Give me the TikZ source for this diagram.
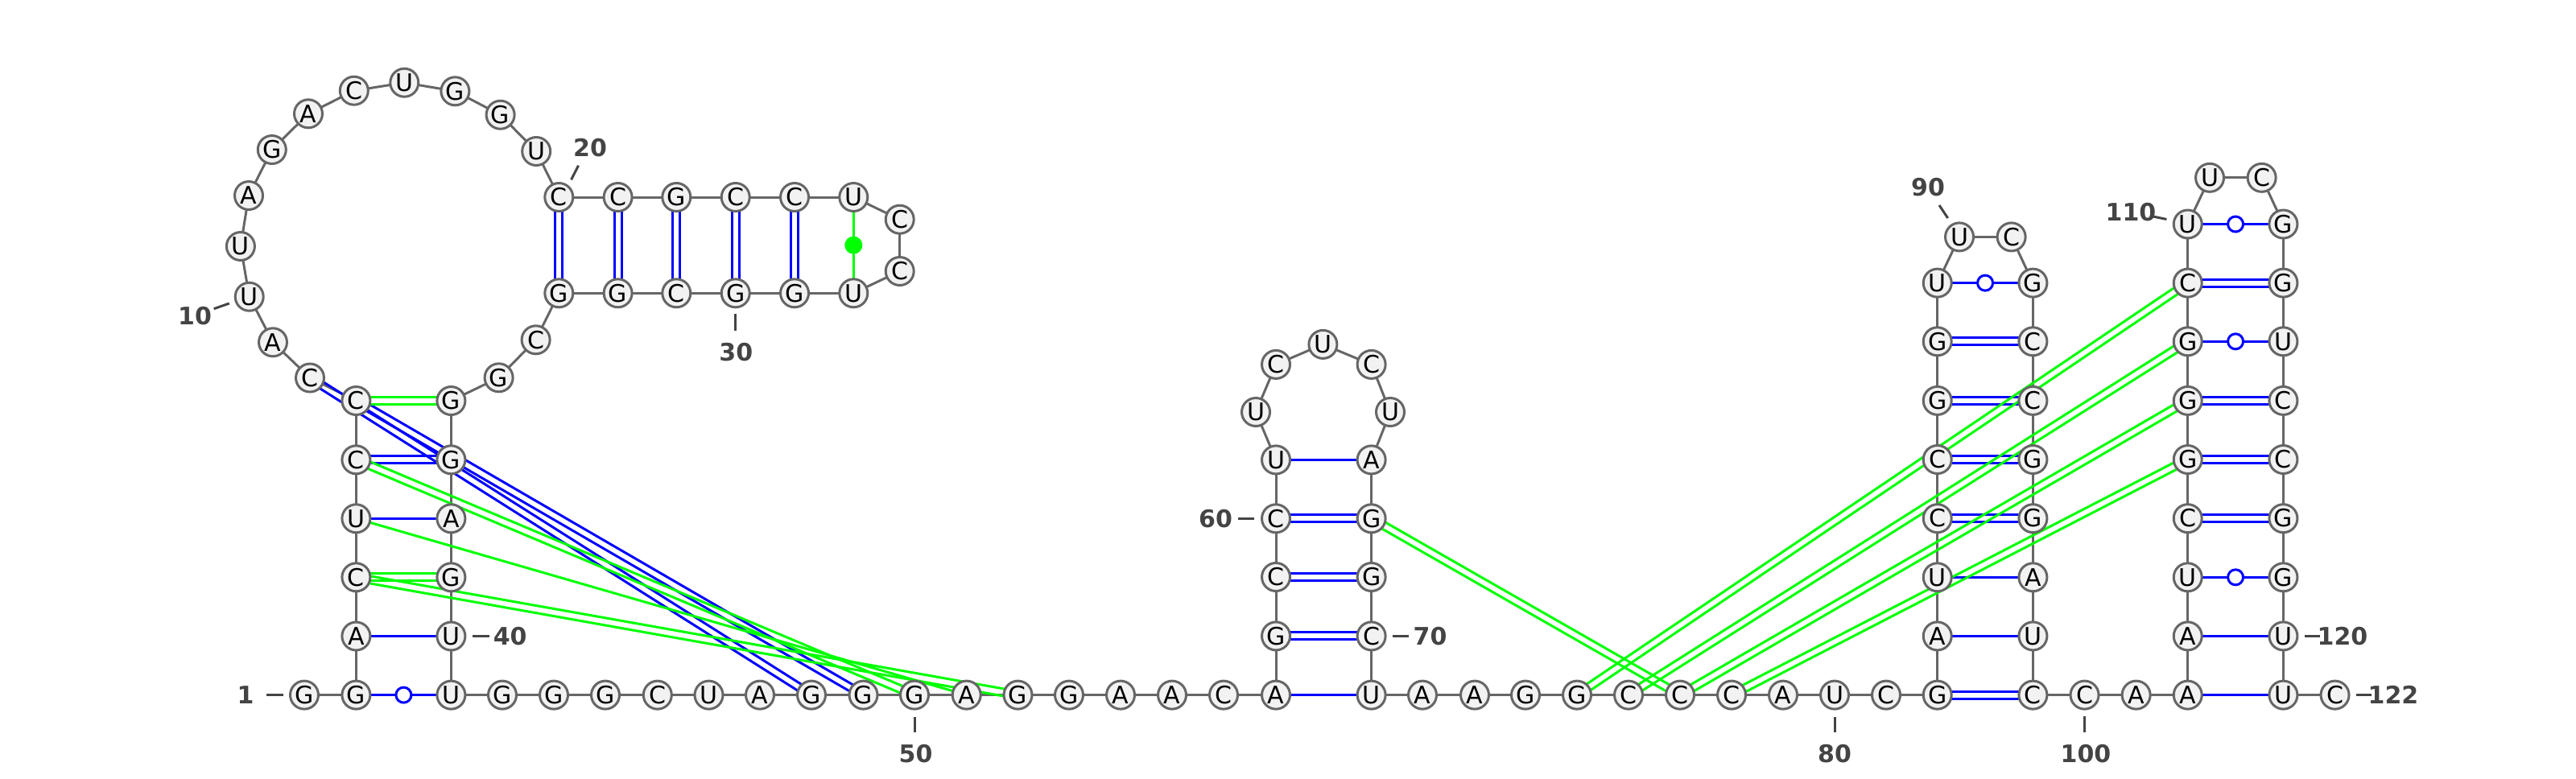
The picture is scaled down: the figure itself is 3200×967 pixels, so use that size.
\documentclass[tikz,border=0pt]{standalone}
\usepackage{fontspec}
\setmainfont{DejaVu Sans}
\usetikzlibrary{calc}
\pgfdeclarelayer{background}
\pgfsetlayers{background,main}
\definecolor{bb}{HTML}{666666}
\definecolor{lab}{HTML}{444444}
\definecolor{nt}{HTML}{F2F2F2}
\tikzset{
  base/.style={circle,draw=bb,fill=nt,line width=3pt,minimum size=35pt,inner sep=0pt,outer sep=0pt,text=black,font=\fontsize{30}{30}\selectfont,text height=21.5pt,text depth=0pt},
  backbone/.style={draw=bb,line width=3pt},
  bluepair/.style={draw=blue,line width=3pt},
  greenpair/.style={draw=green,line width=3pt},
  openmark/.style={circle,draw=blue,fill=white,line width=3pt,minimum size=19pt,inner sep=0pt},
  dotmark/.style={circle,draw=green,fill=green,line width=1pt,minimum size=21pt,inner sep=0pt},
  numlabel/.style={text=lab,font=\fontsize{30}{30}\selectfont\bfseries,inner sep=0pt},
  ticks/.style={draw=lab,line width=3pt}
}
\newcommand{\dblpair}[3]{%
  \draw[#3] ($(n#1)!4.5pt!90:(n#2)$) -- ($(n#2)!4.5pt!-90:(n#1)$);
  \draw[#3] ($(n#1)!4.5pt!-90:(n#2)$) -- ($(n#2)!4.5pt!90:(n#1)$);}
\newcommand{\ticklabel}[8]{%
  \coordinate (t#1a) at (#2,#3); \coordinate (t#1b) at (#4,#5);
  \draw[ticks] (t#1a) -- (t#1b);
  \node[numlabel] (l#1) at (#6,#7) {#8};}
\begin{document}
\begin{tikzpicture}[x=1pt,y=-1pt]
\useasboundingbox (0,0) rectangle (3200,967);
\foreach \i/\x/\y/\b in {
1/378/863.6/G,2/442.4/863.6/G,3/442.4/790.5/A,4/442.4/717.3/C,5/442.4/644.3/U,6/442.4/571.3/C,7/442.4/498/C,
8/385/469.5/C,9/339/425.3/A,10/309.7/368.7/U,11/298.9/306/U,12/309/243/A,13/337.8/186/G,14/383/141.3/A,15/439.8/112.7/C,
16/502.3/102.7/U,17/565.4/113.3/G,18/621.6/142.7/G,19/666.2/188/U,
20/694.3/245/C,21/767.6/245/C,22/840.3/245/G,23/913.7/245/C,24/987/245/C,25/1060.3/245/U,
26/1117.7/272.7/C,27/1117.7/337/C,
28/1060.3/364.3/U,29/987/364.3/G,30/913.7/364.3/G,31/840.3/364.3/C,32/767.6/364.3/G,33/694.3/364.3/G,
34/665.6/422.3/C,35/619.6/469.3/G,
36/560.4/498/G,37/560.4/571.3/G,38/560.4/644.3/A,39/560.4/717.3/G,40/560.4/790.5/U,41/560.4/863.6/U,
42/624/863.6/G,43/688/863.6/G,44/752/863.6/G,45/816.8/863.6/C,46/880.5/863.6/U,47/944/863.6/A,48/1008/863.6/G,49/1072.5/863.6/G,
50/1136/863.6/G,51/1200.7/863.6/A,52/1264.5/863.6/G,53/1328/863.6/G,54/1392/863.6/A,55/1456/863.6/A,56/1520/863.6/C,57/1585/863.6/A,
58/1585/790.4/G,59/1585/717/C,60/1585/644.3/C,61/1585/571.4/U,62/1560/512/U,63/1585/452.9/C,64/1643.4/427.9/U,65/1703.6/452.9/C,66/1727/512/U,
67/1703.6/571.4/A,68/1703.6/644.3/G,69/1703.6/717/G,70/1703.6/790.4/C,71/1703.6/863.6/U,
72/1767/863.6/A,73/1832/863.6/A,74/1895/863.6/G,75/1959/863.6/G,76/2023/863.6/C,77/2087/863.6/C,78/2151/863.6/C,79/2215/863.6/A,80/2279/863.6/U,81/2343/863.6/C,
82/2406.7/863.6/G,83/2406.7/790.4/A,84/2406.7/717.3/U,85/2406.7/644.2/C,86/2406.7/571/C,87/2406.7/497.9/G,88/2406.7/424.3/G,89/2406.7/351.6/U,
90/2434/294.4/U,91/2498.6/294.4/C,
92/2525.4/351.6/G,93/2525.4/424.3/C,94/2525.4/497.9/C,95/2525.4/571/G,96/2525.4/644.2/G,97/2525.4/717.3/A,98/2525.4/790.4/U,99/2525.4/863.6/C,
100/2589.5/863.6/C,101/2653.6/863.6/A,102/2717.7/863.6/A,103/2717.7/790.4/A,104/2717.7/717.3/U,105/2717.7/644.2/C,106/2717.7/571/G,107/2717.7/497.9/G,108/2717.7/424.3/G,109/2717.7/351.6/C,110/2717.7/278.5/U,
111/2745/220.8/U,112/2809.6/220.8/C,
113/2836.4/278.5/G,114/2836.4/351.6/G,115/2836.4/424.3/U,116/2836.4/497.9/C,117/2836.4/571/C,118/2836.4/644.2/G,119/2836.4/717.3/G,120/2836.4/790.4/U,121/2836.4/863.6/U,122/2900.5/863.6/C}
  \node[base] (n\i) at (\x,\y) {\b};
\foreach \a/\b in {2/41,89/92,104/119,108/115,110/113}
  \node[openmark] (o\a) at ($(n\a)!0.5!(n\b)$) {};
\node[dotmark] (d25) at ($(n25)!0.5!(n28)$) {};
\begin{pgfonlayer}{background}
\foreach \i in {1,...,121} {
  \pgfmathtruncatemacro{\j}{\i+1}
  \draw[backbone] (n\i) -- (n\j);
}
\foreach \a/\b in {3/40,5/38,57/71,61/67,83/98,84/97,102/121,103/120,2/41,89/92,104/119,108/115,110/113}
  \draw[bluepair] (n\a) -- (n\b);
\foreach \a/\b in {6/37,20/33,21/32,22/31,23/30,24/29,58/70,59/69,60/68,82/99,85/96,86/95,87/94,88/93,105/118,106/117,107/116,109/114,8/48,7/49}
  {\dblpair{\a}{\b}{bluepair}}
\foreach \a/\b in {4/39,7/36,6/50,4/52,68/77,75/109,76/108,77/107,78/106}
  {\dblpair{\a}{\b}{greenpair}}
\draw[greenpair] (n5) -- (n51);
\draw[greenpair] (n25) -- (n28);
\end{pgfonlayer}
\ticklabel{1}{331}{863.6}{352}{863.6}{305}{863.6}{1}
\ticklabel{10}{265.7}{383.7}{284.8}{377}{242}{392.7}{10}
\ticklabel{20}{718.5}{205.7}{709.6}{223.3}{733}{184}{20}
\ticklabel{30}{913.7}{390}{913.7}{411}{914.3}{437.7}{30}
\ticklabel{40}{587}{790.5}{607.6}{790.5}{633.7}{790.5}{40}
\ticklabel{50}{1136}{890.7}{1136}{910}{1137.5}{936.7}{50}
\ticklabel{60}{1537.8}{644.3}{1558}{644.3}{1510}{644.3}{60}
\ticklabel{70}{1729.6}{790.4}{1750}{790.4}{1776.5}{790.4}{70}
\ticklabel{80}{2279}{890.7}{2279}{910}{2279}{936.7}{80}
\ticklabel{90}{2409}{255}{2419.6}{271}{2395}{233}{90}
\ticklabel{100}{2589.5}{890.4}{2589.5}{910}{2591}{937}{100}
\ticklabel{110}{2674.6}{269}{2691.4}{272.5}{2647}{263.6}{110}
\ticklabel{120}{2863}{790.4}{2882}{790.4}{2910}{790.4}{120}
\ticklabel{122}{2926.8}{863.6}{2946}{863.6}{2973}{863.6}{122}
\end{tikzpicture}
\end{document}
